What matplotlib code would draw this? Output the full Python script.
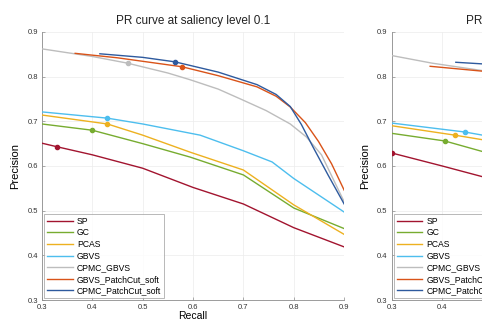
import matplotlib
import matplotlib.pyplot as plt

matplotlib.use('Agg')

# ── colores estilo MATLAB ─────────────────────────────────────────────────────
COLORS = {
    'SP': '#A2142F', 'GC': '#77AC30', 'PCAS': '#EDB120', 'GBVS': '#4DBEEE',
    'CPMC_GBVS': '#BDBDBD', 'GBVS_PatchCut_soft': '#D95319',
    'CPMC_PatchCut_soft': '#2E5A9E',
}
NAMES = list(COLORS.keys())

plt.rcParams.update({
    'font.family': ['Liberation Sans', 'DejaVu Sans'],
    'axes.edgecolor': '#8c8c8c', 'xtick.color': '#8c8c8c', 'ytick.color': '#8c8c8c',
    'xtick.labelcolor': '#333333', 'ytick.labelcolor': '#333333',
    'axes.spines.top': False, 'axes.spines.right': False,
})

# ── datos: nivel 0.1 ──────────────────────────────────────────────────────────
sp_x = [0.30, 0.33, 0.40, 0.50, 0.60, 0.70, 0.80, 0.90]
sp_y = [0.651, 0.643, 0.625, 0.595, 0.552, 0.515, 0.462, 0.419]
gc_x = [0.30, 0.40, 0.50, 0.594, 0.70, 0.80, 0.90]
gc_y = [0.694, 0.680, 0.650, 0.620, 0.580, 0.506, 0.460]
pcas_x = [0.30, 0.43, 0.50, 0.594, 0.70, 0.80, 0.90]
pcas_y = [0.714, 0.694, 0.669, 0.631, 0.591, 0.513, 0.447]
gbvs_x = [0.30, 0.43, 0.50, 0.614, 0.70, 0.757, 0.80, 0.90]
gbvs_y = [0.721, 0.707, 0.694, 0.669, 0.634, 0.609, 0.572, 0.497]
cg_x = [0.30, 0.40, 0.47, 0.55, 0.594, 0.65, 0.694, 0.745, 0.793, 0.825, 0.855, 0.90]
cg_y = [0.862, 0.845, 0.830, 0.808, 0.793, 0.772, 0.750, 0.724, 0.694, 0.665, 0.625, 0.520]
gpc_x = [0.366, 0.45, 0.578, 0.65, 0.727, 0.765, 0.793, 0.823, 0.849, 0.875, 0.90]
gpc_y = [0.852, 0.842, 0.822, 0.802, 0.777, 0.756, 0.732, 0.697, 0.655, 0.605, 0.546]
cpc_x = [0.415, 0.50, 0.564, 0.65, 0.727, 0.765, 0.793, 0.815, 0.837, 0.868, 0.90]
cpc_y = [0.851, 0.843, 0.833, 0.810, 0.782, 0.760, 0.733, 0.693, 0.645, 0.580, 0.515]
# puntos marcados (umbral) por método
mark1_x = [0.33, 0.40, 0.43, 0.43, 0.47, 0.578, 0.564]
mark1_y = [0.643, 0.680, 0.694, 0.707, 0.830, 0.822, 0.833]

# ── datos: segundo nivel (sólo se ve el comienzo) ─────────────────────────────
sp2_x = [0.30, 0.40, 0.50]
sp2_y = [0.629, 0.600, 0.570]
gc2_x = [0.30, 0.405, 0.50]
gc2_y = [0.673, 0.656, 0.626]
pcas2_x = [0.30, 0.425, 0.50]
pcas2_y = [0.690, 0.669, 0.655]
gbvs2_x = [0.30, 0.445, 0.50]
gbvs2_y = [0.696, 0.676, 0.665]
cg2_x = [0.30, 0.38, 0.50]
cg2_y = [0.847, 0.830, 0.810]
gpc2_x = [0.376, 0.50]
gpc2_y = [0.823, 0.810]
cpc2_x = [0.427, 0.50]
cpc2_y = [0.832, 0.827]
mark2_x = [0.30, 0.405, 0.425, 0.445]
mark2_y = [0.629, 0.656, 0.669, 0.676]

xticks = [0.3, 0.4, 0.5, 0.6, 0.7, 0.8, 0.9]
yticks = [0.3, 0.4, 0.5, 0.6, 0.7, 0.8, 0.9]

series1 = [(sp_x, sp_y), (gc_x, gc_y), (pcas_x, pcas_y), (gbvs_x, gbvs_y),
           (cg_x, cg_y), (gpc_x, gpc_y), (cpc_x, cpc_y)]
series2 = [(sp2_x, sp2_y), (gc2_x, gc2_y), (pcas2_x, pcas2_y), (gbvs2_x, gbvs2_y),
           (cg2_x, cg2_y), (gpc2_x, gpc2_y), (cpc2_x, cpc2_y)]

fig = plt.figure(figsize=(4.82, 3.22), dpi=100)
ax1 = fig.add_axes([0.087, 0.068, 0.627, 0.833])
ax2 = fig.add_axes([0.813, 0.068, 0.627, 0.833])


def draw(ax, series, mx, my, title):
    for name, (xs, ys) in zip(NAMES, series):
        ax.plot(xs, ys, color=COLORS[name], lw=1.0, label=name, zorder=3)
    for name, x, y in zip(NAMES, mx, my):
        ax.plot([x], [y], 'o', color=COLORS[name], ms=3, zorder=4)
    ax.set_xlim(0.3, 0.9)
    ax.set_ylim(0.3, 0.9)
    ax.set_xticks(xticks)
    ax.set_yticks(yticks)
    ax.tick_params(direction='in', length=2, width=0.5, labelsize=5.5, pad=3)
    ax.grid(True, color='#ececec', lw=0.5, zorder=0)
    for s in ('left', 'bottom'):
        ax.spines[s].set_linewidth(0.6)
    ax.set_title(title, fontsize=8.5, pad=6, color='#222222')
    ax.set_xlabel('Recall', fontsize=7.5, labelpad=0)
    ax.set_ylabel('Precision', fontsize=8, labelpad=5)
    leg = ax.legend(loc='lower left', fontsize=6.2, frameon=True, fancybox=False,
                    edgecolor='#999999', borderaxespad=0.25, handlelength=3.0,
                    labelspacing=0.3, borderpad=0.3, handletextpad=0.5)
    leg.get_frame().set_linewidth(0.6)


draw(ax1, series1, mark1_x, mark1_y, 'PR curve at saliency level 0.1')
draw(ax2, series2, mark2_x, mark2_y, 'PR curve at saliency level 0.2')

plt.savefig('out.png', dpi=100)
plt.close()
